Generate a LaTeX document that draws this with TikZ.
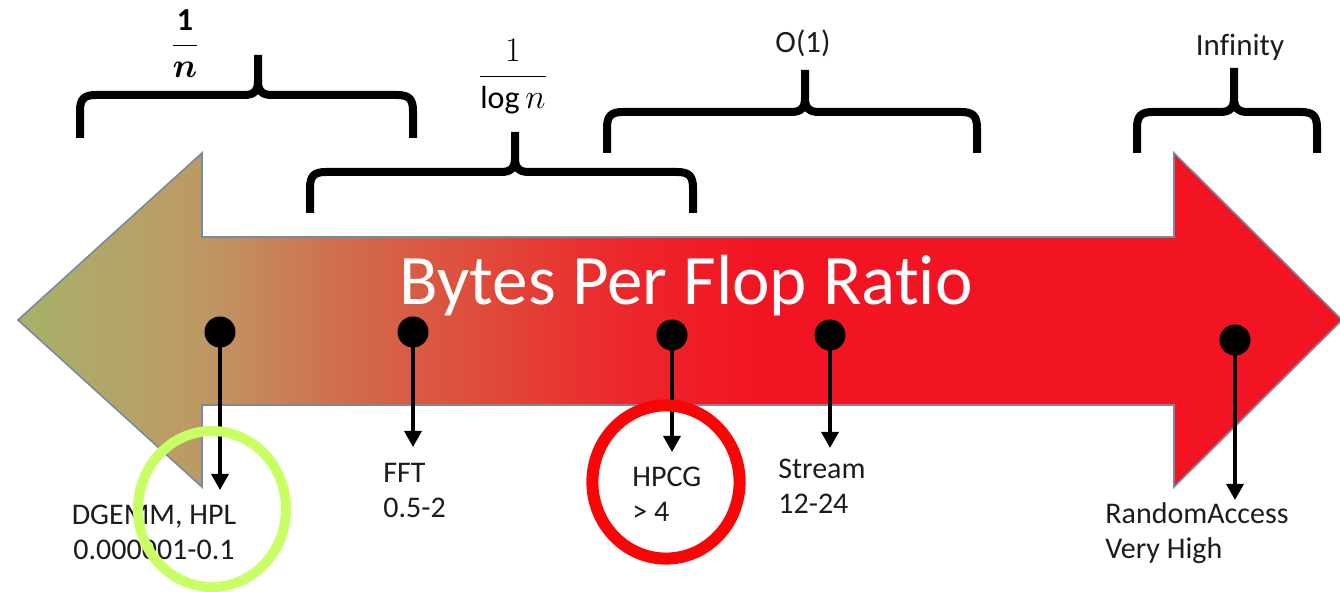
\documentclass[tikz,border=0pt]{standalone}
\usepackage{amsmath}
\usepackage{fontspec}
\setmainfont{Carlito}[Ligatures=NoCommon]
\usetikzlibrary{arrows.meta}
\definecolor{cA}{RGB}{166,178,106}
\definecolor{cB}{RGB}{190,152,100}
\definecolor{cC}{RGB}{207,112,80}
\definecolor{cD}{RGB}{222,78,60}
\definecolor{cE}{RGB}{236,40,44}
\definecolor{cF}{RGB}{242,20,34}
\definecolor{edge}{RGB}{120,138,158}
\definecolor{txtgray}{RGB}{28,28,28}
\definecolor{hlgreen}{RGB}{200,255,100}
\definecolor{hlred}{RGB}{250,5,5}
\pgfdeclarehorizontalshading{bpfshade}{100bp}{color(0bp)=(cA); color(25bp)=(cA); color(31.9bp)=(cB); color(36.8bp)=(cC); color(42bp)=(cD); color(47.7bp)=(cE); color(53bp)=(cF); color(75bp)=(cF); color(100bp)=(cF)}
\newcommand\drawmybrace[6]{% x1, x2, xc, bar, bottom, top
  \draw[brace] (#1,#5) -- (#1,#4+16) .. controls (#1,#4+4) and (#1+4,#4) .. (#1+16,#4)
    -- (#3-14,#4) .. controls (#3-4,#4) and (#3,#4-4) .. (#3,#4-14) -- (#3,#6);
  \draw[brace] (#2,#5) -- (#2,#4+16) .. controls (#2,#4+4) and (#2-4,#4) .. (#2-16,#4)
    -- (#3+14,#4) .. controls (#3+4,#4) and (#3,#4-4) .. (#3,#4-14);
}
\begin{document}
\begin{tikzpicture}[x=0.5pt,y=-0.5pt,
  brace/.style={line width=4pt, line join=round, line cap=butt},
  dot/.style={circle, fill=black, inner sep=0pt, minimum size=15.5pt},
  ptr/.style={line width=1.6pt, -{Triangle[length=8pt,width=8.5pt]}},
  lbl/.style={font=\fontsize{15}{17.5}\selectfont, inner sep=0pt, text=txtgray},
  toplbl/.style={font=\fontsize{15.5}{18}\selectfont, inner sep=0pt, text=txtgray},
  fraclbl/.style={font=\fontsize{16}{19}\selectfont, inner sep=0pt, text=black},
  ]
\useasboundingbox (0,0) rectangle (1340,592);
% main double arrow
\shadedraw[shading=bpfshade, draw=edge, line width=0.8pt, line join=miter]
  (18,320) -- (202,153) -- (202,237) -- (1174,237) -- (1174,153) -- (1342,320)
  -- (1174,487) -- (1174,405) -- (202,405) -- (202,487) -- cycle;
\node[font=\fontsize{35.5}{42}\selectfont, text=white, anchor=base, inner sep=0pt] (title) at (686,305) {Bytes Per Flop Ratio};
% braces
\drawmybrace{80}{413}{258}{95}{138}{55}
\drawmybrace{310}{693}{515}{172}{213}{132}
\drawmybrace{607}{977}{805}{112}{153}{70}
\drawmybrace{1137}{1317}{1234}{112}{153}{68}
\node[fraclbl] (fn) at (185,44) {$\dfrac{\mathbf{1}}{\boldsymbol{n}}$};
\node[fraclbl] (flog) at (513,77) {$\dfrac{1}{\log n}$};
\node[toplbl] (o1) at (803,43) {O(1)};
\node[toplbl] (inf) at (1240,47) {Infinity};
% markers
\node[dot] (d1) at (220,332) {};
\node[dot] (d2) at (413,332) {};
\node[dot] (d3) at (672,335) {};
\node[dot] (d4) at (830,335) {};
\node[dot] (d5) at (1235,340) {};
\coordinate (e1) at (220,490);
\coordinate (e2) at (413,447);
\coordinate (e3) at (672,452);
\coordinate (e4) at (830,448);
\coordinate (e5) at (1235,500);
\draw[ptr] (d1.center) -- (e1);
\draw[ptr] (d2.center) -- (e2);
\draw[ptr] (d3.center) -- (e3);
\draw[ptr] (d4.center) -- (e4);
\draw[ptr] (d5.center) -- (e5);
% labels
\node[lbl, align=center, anchor=north] (l1) at (154,505) {DGEMM, HPL\\0.000001-0.1};
\node[lbl, align=left, anchor=north west] (l2) at (383,463) {FFT\\0.5-2};
\node[lbl, align=left, anchor=north west] (l3) at (632,467) {HPCG\\> 4};
\node[lbl, align=left, anchor=north west] (l4) at (778,459) {Stream\\12-24};
\node[lbl, align=left, anchor=north west] (l5) at (1105,502) {RandomAccess\\Very High};
% highlight circles
\draw[hlgreen, line width=5pt] (212,509) ellipse [x radius=37pt, y radius=39pt];
\draw[hlred, line width=6pt] (666,482) ellipse [x radius=36.8pt, y radius=38.3pt];
\end{tikzpicture}
\end{document}
